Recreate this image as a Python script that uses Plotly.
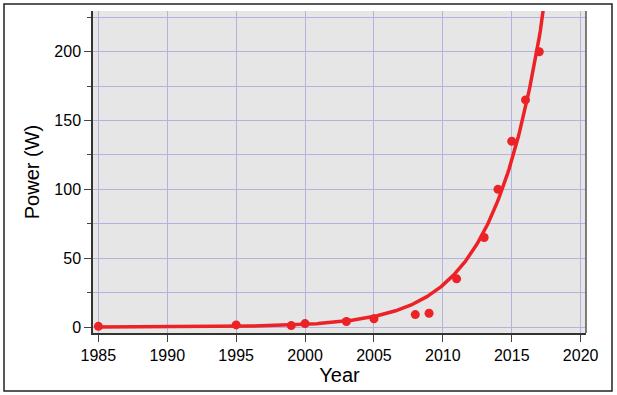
import numpy as np
import plotly.graph_objects as go

# Data
years = [1985, 1995, 1999, 2000, 2003, 2005, 2008, 2009, 2011, 2013, 2014, 2015, 2016, 2017]
power = [0.5, 1.5, 1.0, 2.5, 4.0, 6.0, 9.0, 10.0, 35.0, 65.0, 100.0, 135.0, 165.0, 200.0]

x_ticks = [1985, 1990, 1995, 2000, 2005, 2010, 2015, 2020]
y_ticks = [0, 50, 100, 150, 200]

# Exponential least-squares fit y = a*exp(b*(t-2015)), computed from the data
t = np.array(years, dtype=float)
y = np.array(power, dtype=float)
best = None
for b in np.linspace(0.1, 0.5, 4001):
    e = np.exp(b * (t - 2015))
    a = (y @ e) / (e @ e)
    sse = ((y - a * e) ** 2).sum()
    if best is None or sse < best[0]:
        best = (sse, a, b)
_, fa, fb = best
fit_t = np.linspace(1985, 2018.5, 400)
fit_y = fa * np.exp(fb * (fit_t - 2015))

RED = "#ec2227"
GRID = "#b3b3dd"
FONT = "Liberation Sans, Arial, sans-serif"

fig = go.Figure()
fig.add_trace(go.Scatter(x=years, y=power, mode="markers",
                         marker=dict(color=RED, size=9, line=dict(width=0)),
                         showlegend=False, hoverinfo="skip"))
fig.add_trace(go.Scatter(x=fit_t, y=fit_y, mode="lines",
                         line=dict(color=RED, width=3.5),
                         showlegend=False, hoverinfo="skip"))

ML, MR, MT, MB = 93, 31, 11, 62
W, H = 617, 395
PW, PH = W - ML - MR, H - MT - MB

fig.update_layout(
    width=W, height=H,
    margin=dict(l=ML, r=MR, t=MT, b=MB, pad=0),
    paper_bgcolor="white", plot_bgcolor="#e6e6e6",
    font=dict(family=FONT, size=16, color="black"),
    xaxis=dict(
        range=[1984.61, 2020.39], tickvals=x_ticks,
        ticks="outside", ticklen=7, tickwidth=1, tickcolor="#444",
        showline=True, linecolor="#333", linewidth=1.5,
        showgrid=True, gridcolor=GRID, gridwidth=1, zeroline=False,
        title=dict(text="Year", font=dict(size=20), standoff=5),
    ),
    yaxis=dict(
        range=[-4.36, 229.6], tickvals=y_ticks,
        ticks="outside", ticklen=7, tickwidth=1, tickcolor="#444",
        showline=True, linecolor="#333", linewidth=1.5,
        showgrid=True, gridcolor=GRID, gridwidth=1, zeroline=False,
        minor=dict(dtick=25, tick0=0, ticks="outside", ticklen=4, tickcolor="#444",
                   showgrid=True, gridcolor=GRID, gridwidth=1),
        title=dict(text="Power (W)", font=dict(size=20), standoff=9),
    ),
    shapes=[
        # right border of plot area
        dict(type="line", xref="paper", yref="paper", x0=1, x1=1, y0=0, y1=1,
             line=dict(color="#555", width=1.5)),
        # outer frame
        dict(type="rect", xref="paper", yref="paper",
             x0=(4 - ML) / PW, x1=(612 - ML) / PW,
             y0=-(391 - (H - MB)) / PH, y1=1 + (MT - 4) / PH,
             line=dict(color="#222", width=1.5), fillcolor="rgba(0,0,0,0)", layer="below"),
    ],
)

fig.write_html("out.html")
